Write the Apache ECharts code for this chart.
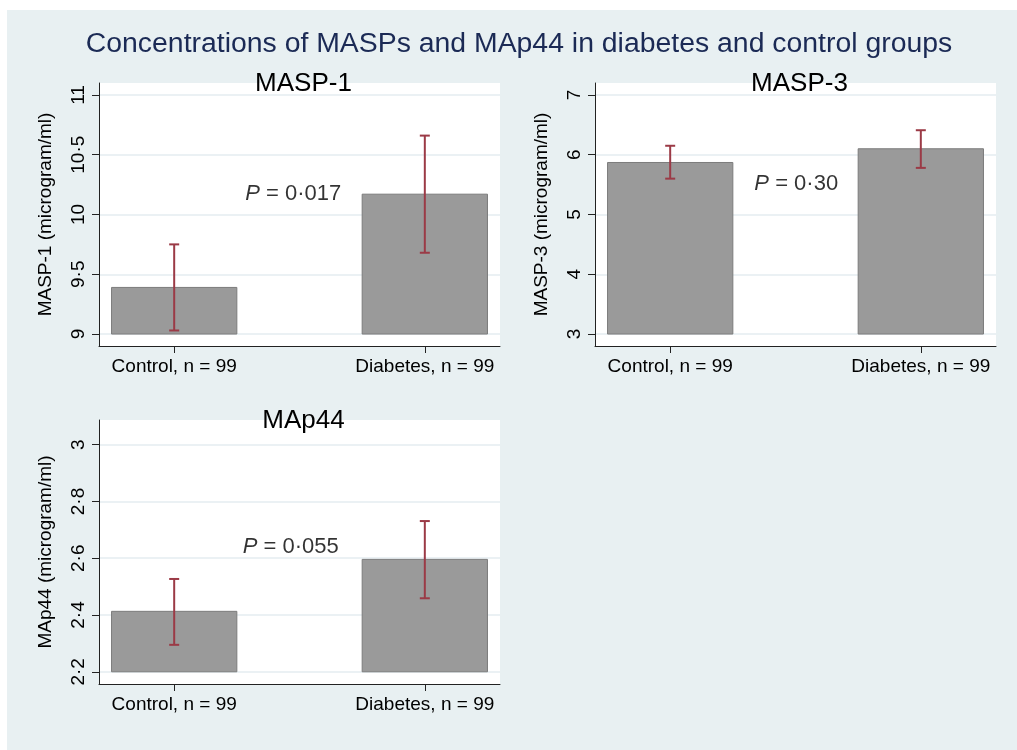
<!DOCTYPE html>
<html>
<head>
<meta charset="utf-8">
<script src="https://cdn.jsdelivr.net/npm/echarts@6/dist/echarts.min.js"></script>
<style>
  html, body { margin: 0; padding: 0; background: #ffffff; }
  #chart { width: 1017px; height: 750px; }
</style>
</head>
<body>
<div id="chart"></div>
<script>
// ---- data ----
const mainTitle = 'Concentrations of MASPs and MAp44 in diabetes and control groups';
const categories = ['Control, n = 99', 'Diabetes, n = 99'];
const panelTitles = ['MASP-1', 'MASP-3', 'MAp44'];
const yAxisNames = ['MASP-1 (microgram/ml)', 'MASP-3 (microgram/ml)', 'MAp44 (microgram/ml)'];

const masp1Mean = [9.39, 10.17];
const masp1Low  = [9.03, 9.68];
const masp1High = [9.75, 10.66];

const masp3Mean = [5.87, 6.10];
const masp3Low  = [5.60, 5.78];
const masp3High = [6.15, 6.41];

const map44Mean = [2.413, 2.596];
const map44Low  = [2.295, 2.459];
const map44High = [2.527, 2.731];

const pLabels = ['0·017', '0·30', '0·055'];

const masp1Ticks = [9, 9.5, 10, 10.5, 11];
const masp3Ticks = [3, 4, 5, 6, 7];
const map44Ticks = [2.2, 2.4, 2.6, 2.8, 3];

// ---- layout / style ----
const FONT = "'Liberation Sans', Arial, Helvetica, sans-serif";
const BAR_COLOR = '#9a9a9a';
const BAR_BORDER = '#7c7c7c';
const ERR_COLOR = '#9b3a46';
const GRID_LINE = '#e4edf0';
const BG = '#e8f0f2';

const panels = [
  { mean: masp1Mean, low: masp1Low, high: masp1High, ticks: masp1Ticks, yMin: 8.9, yMax: 11.1,
    grid: { left: 99, top: 83, width: 401, height: 263 }, pPos: [1.475, 10.17] },
  { mean: masp3Mean, low: masp3Low, high: masp3High, ticks: masp3Ticks, yMin: 2.8, yMax: 7.2,
    grid: { left: 595, top: 83, width: 401, height: 263 }, pPos: [1.503, 5.515] },
  { mean: map44Mean, low: map44Low, high: map44High, ticks: map44Ticks, yMin: 2.157, yMax: 3.087,
    grid: { left: 99, top: 420, width: 401, height: 264 }, pPos: [1.465, 2.639] }
];

const fmtTick = v => String(+v.toFixed(2)).replace('.', '·');

const grids = [], xAxes = [], yAxes = [], series = [], titles = [];

titles.push({
  text: mainTitle, left: 514, top: 25, textAlign: 'center',
  textStyle: { fontFamily: FONT, fontSize: 28.4, fontWeight: 'normal', color: '#1b2a55' }
});

panels.forEach((p, i) => {
  grids.push(Object.assign({ show: true, backgroundColor: '#ffffff', borderWidth: 0, containLabel: false }, p.grid));
  titles.push({
    text: panelTitles[i], left: p.grid.left + p.grid.width / 2 - 1, top: p.grid.top - 17, textAlign: 'center',
    textStyle: { fontFamily: FONT, fontSize: 26, fontWeight: 'normal', color: '#000' }
  });
  xAxes.push({
    type: 'value', gridIndex: i, min: 0.7, max: 2.3,
    axisLine: { show: true, onZero: false, lineStyle: { color: '#222', width: 1 } },
    axisTick: { show: true, customValues: [1, 2], length: 7, lineStyle: { color: '#222' } },
    axisLabel: { show: true, customValues: [1, 2], margin: 11,
      formatter: v => categories[Math.round(v) - 1] || '',
      fontFamily: FONT, fontSize: 19, color: '#000' },
    splitLine: { show: false }
  });
  yAxes.push({
    type: 'value', gridIndex: i, min: p.yMin, max: p.yMax,
    name: yAxisNames[i], nameLocation: 'middle', nameGap: 44,
    nameTextStyle: { fontFamily: FONT, fontSize: 19, color: '#000' },
    axisLine: { show: true, onZero: false, lineStyle: { color: '#222', width: 1 } },
    axisTick: { show: true, customValues: p.ticks, length: 7, lineStyle: { color: '#222' } },
    axisLabel: { show: true, customValues: p.ticks, rotate: 90, margin: 11,
      formatter: v => fmtTick(v), fontFamily: FONT, fontSize: 19, color: '#000' },
    splitLine: { show: true, lineStyle: { color: GRID_LINE, width: 1.5 } }
  });
  const base = p.ticks[0];
  // bars
  series.push({
    type: 'custom', xAxisIndex: i, yAxisIndex: i, clip: true,
    data: p.mean.map((m, k) => [k + 1, m]),
    renderItem: (params, api) => {
      const x = api.value(0), y = api.value(1);
      const a = api.coord([x - 0.25, base]);
      const b = api.coord([x + 0.25, y]);
      return { type: 'rect', shape: { x: a[0], y: b[1], width: b[0] - a[0], height: a[1] - b[1] },
        style: { fill: BAR_COLOR, stroke: BAR_BORDER, lineWidth: 1 } };
    }
  });
  // error bars
  series.push({
    type: 'custom', xAxisIndex: i, yAxisIndex: i, clip: true, z: 5,
    data: p.mean.map((m, k) => [k + 1, p.low[k], p.high[k]]),
    renderItem: (params, api) => {
      const x = api.value(0);
      const lo = api.coord([x, api.value(1)]);
      const hi = api.coord([x, api.value(2)]);
      const hw = 5;
      const st = { stroke: ERR_COLOR, lineWidth: 2 };
      return { type: 'group', children: [
        { type: 'line', shape: { x1: lo[0], y1: lo[1], x2: hi[0], y2: hi[1] }, style: st },
        { type: 'line', shape: { x1: hi[0] - hw, y1: hi[1], x2: hi[0] + hw, y2: hi[1] }, style: st },
        { type: 'line', shape: { x1: lo[0] - hw, y1: lo[1], x2: lo[0] + hw, y2: lo[1] }, style: st }
      ] };
    }
  });
  // P value annotation
  series.push({
    type: 'scatter', xAxisIndex: i, yAxisIndex: i, symbolSize: 0, z: 6,
    data: [p.pPos],
    label: { show: true, position: 'inside',
      formatter: () => '{i|P} = ' + pLabels[i],
      fontFamily: FONT, fontSize: 22, color: '#000',
      rich: { i: { fontFamily: FONT, fontSize: 22, fontStyle: 'italic', color: '#000' } } },
    silent: true
  });
});

const chart = echarts.init(document.getElementById('chart'), null, { renderer: 'canvas' });
chart.setOption({
  animation: false,
  backgroundColor: '#ffffff',
  graphic: [{ type: 'rect', z: -100, zlevel: 0, silent: true,
    shape: { x: 7, y: 10, width: 1010, height: 740 }, style: { fill: BG } }],
  title: titles,
  grid: grids,
  xAxis: xAxes,
  yAxis: yAxes,
  series: series
});
</script>
</body>
</html>
